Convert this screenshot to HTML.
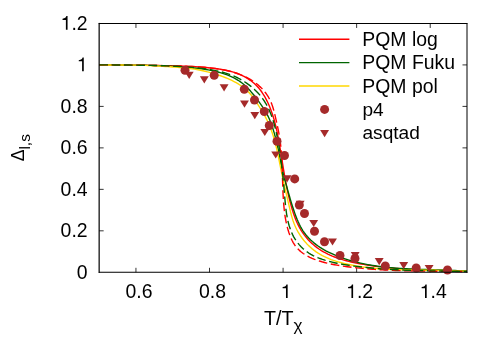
<!DOCTYPE html>
<html><head><meta charset="utf-8"><title>plot</title>
<style>
html,body{margin:0;padding:0;background:#fff;}
body{width:500px;height:350px;overflow:hidden;position:relative;font-family:"Liberation Sans",sans-serif;}
svg{position:absolute;left:0;top:0;will-change:transform;}
text{font-family:"Liberation Sans",sans-serif;font-size:19.1px;fill:#000;}
</style></head><body>
<svg width="500" height="350" viewBox="0 0 500 350">
<rect x="0" y="0" width="500" height="350" fill="#fff"/>

<g stroke="#000" stroke-width="0.8" fill="none">
<path d="M135.94,272.3 V267.80 M135.94,23.45 V27.95"/>
<path d="M209.51,272.3 V267.80 M209.51,23.45 V27.95"/>
<path d="M283.08,272.3 V267.80 M283.08,23.45 V27.95"/>
<path d="M356.64,272.3 V267.80 M356.64,23.45 V27.95"/>
<path d="M430.22,272.3 V267.80 M430.22,23.45 V27.95"/>
<path d="M99.15,230.82 H103.65 M467.0,230.82 H462.50"/>
<path d="M99.15,189.35 H103.65 M467.0,189.35 H462.50"/>
<path d="M99.15,147.88 H103.65 M467.0,147.88 H462.50"/>
<path d="M99.15,106.40 H103.65 M467.0,106.40 H462.50"/>
<path d="M99.15,64.92 H103.65 M467.0,64.92 H462.50"/>
</g>
<g fill="none" stroke-width="1.4" stroke-linejoin="round">
<path d="M99.30,64.90 L101.77,64.90 L104.24,64.90 L106.72,64.90 L109.19,64.91 L111.66,64.92 L114.13,64.93 L116.61,64.94 L119.08,64.96 L121.55,64.98 L124.03,65.00 L126.50,65.02 L128.97,65.05 L131.44,65.08 L133.92,65.11 L136.39,65.15 L138.86,65.18 L141.34,65.22 L143.81,65.26 L146.28,65.30 L148.75,65.34 L151.23,65.39 L153.70,65.43 L156.17,65.48 L158.64,65.53 L161.11,65.58 L163.58,65.64 L166.05,65.69 L168.52,65.75 L170.99,65.80 L173.46,65.86 L175.93,65.92 L178.40,65.99 L180.87,66.06 L183.34,66.14 L185.81,66.23 L188.28,66.33 L190.75,66.44 L193.22,66.56 L195.68,66.70 L198.15,66.86 L200.62,67.04 L203.09,67.23 L205.56,67.45 L208.03,67.69 L210.50,67.95 L212.97,68.24 L215.44,68.55 L217.91,68.90 L220.37,69.28 L222.83,69.70 L225.28,70.18 L227.71,70.70 L230.12,71.29 L232.50,71.95 L234.86,72.68 L237.19,73.49 L239.48,74.39 L241.73,75.38 L243.94,76.47 L246.10,77.65 L248.20,78.93 L250.23,80.30 L252.19,81.77 L254.07,83.33 L255.87,84.99 L257.57,86.74 L259.18,88.58 L260.70,90.51 L262.12,92.52 L263.47,94.59 L264.74,96.71 L265.93,98.88 L267.06,101.07 L268.12,103.30 L269.13,105.56 L270.08,107.83 L270.97,110.14 L271.81,112.46 L272.60,114.80 L273.35,117.17 L274.05,119.54 L274.72,121.94 L275.34,124.35 L275.93,126.76 L276.49,129.19 L277.02,131.63 L277.53,134.08 L278.01,136.53 L278.47,138.98 L278.92,141.44 L279.35,143.89 L279.77,146.35 L280.18,148.80 L280.58,151.25 L280.98,153.69 L281.37,156.13 L281.76,158.57 L282.15,161.01 L282.54,163.44 L282.94,165.87 L283.34,168.30 L283.74,170.72 L284.15,173.15 L284.57,175.57 L285.00,177.98 L285.43,180.40 L285.89,182.81 L286.35,185.22 L286.84,187.63 L287.34,190.03 L287.86,192.44 L288.40,194.84 L288.96,197.24 L289.54,199.64 L290.15,202.04 L290.79,204.43 L291.45,206.83 L292.15,209.21 L292.89,211.59 L293.67,213.96 L294.50,216.30 L295.38,218.63 L296.32,220.93 L297.33,223.19 L298.40,225.42 L299.56,227.61 L300.79,229.76 L302.11,231.86 L303.51,233.90 L305.00,235.89 L306.56,237.81 L308.19,239.67 L309.90,241.46 L311.67,243.18 L313.50,244.82 L315.39,246.38 L317.34,247.85 L319.34,249.25 L321.39,250.56 L323.49,251.80 L325.63,252.97 L327.82,254.07 L330.04,255.10 L332.29,256.07 L334.58,256.98 L336.90,257.83 L339.25,258.64 L341.62,259.39 L344.01,260.09 L346.42,260.75 L348.84,261.37 L351.28,261.95 L353.72,262.50 L356.17,263.02 L358.63,263.50 L361.09,263.97 L363.54,264.41 L366.00,264.83 L368.45,265.22 L370.91,265.60 L373.36,265.95 L375.81,266.29 L378.26,266.61 L380.72,266.91 L383.17,267.19 L385.62,267.45 L388.07,267.70 L390.52,267.93 L392.97,268.15 L395.43,268.36 L397.88,268.55 L400.33,268.73 L402.78,268.90 L405.24,269.05 L407.69,269.20 L410.15,269.33 L412.60,269.46 L415.06,269.58 L417.52,269.69 L419.98,269.79 L422.43,269.88 L424.90,269.98 L427.36,270.06 L429.82,270.14 L432.29,270.22 L434.75,270.29 L437.22,270.37 L439.69,270.44 L442.16,270.51 L444.64,270.58 L447.11,270.64 L449.59,270.72 L452.07,270.79 L454.55,270.86 L457.04,270.94 L459.52,271.02 L462.01,271.11 L464.51,271.20 L467.00,271.30" stroke="#ff0000"/>
<path d="M99.30,64.90 L101.73,64.90 L104.16,64.91 L106.58,64.91 L109.01,64.92 L111.44,64.92 L113.87,64.93 L116.29,64.94 L118.72,64.96 L121.15,64.97 L123.58,64.99 L126.00,65.01 L128.43,65.04 L130.86,65.07 L133.29,65.10 L135.71,65.13 L138.14,65.17 L140.57,65.21 L143.00,65.25 L145.43,65.30 L147.85,65.36 L150.28,65.42 L152.71,65.48 L155.14,65.55 L157.57,65.63 L159.99,65.71 L162.42,65.81 L164.85,65.91 L167.27,66.02 L169.70,66.14 L172.12,66.26 L174.55,66.40 L176.97,66.56 L179.39,66.72 L181.81,66.89 L184.22,67.08 L186.64,67.28 L189.05,67.50 L191.47,67.73 L193.88,67.98 L196.29,68.24 L198.69,68.52 L201.10,68.82 L203.50,69.15 L205.90,69.51 L208.30,69.91 L210.69,70.35 L213.09,70.83 L215.48,71.37 L217.87,71.95 L220.24,72.60 L222.61,73.31 L224.94,74.08 L227.25,74.92 L229.53,75.83 L231.75,76.82 L233.93,77.89 L236.06,79.05 L238.12,80.29 L240.11,81.63 L242.02,83.06 L243.87,84.57 L245.66,86.16 L247.38,87.83 L249.06,89.56 L250.69,91.34 L252.27,93.18 L253.82,95.05 L255.34,96.96 L256.83,98.89 L258.29,100.85 L259.73,102.83 L261.14,104.82 L262.51,106.82 L263.85,108.85 L265.13,110.90 L266.35,112.98 L267.50,115.09 L268.56,117.25 L269.55,119.45 L270.47,121.68 L271.32,123.94 L272.12,126.22 L272.87,128.53 L273.59,130.84 L274.27,133.17 L274.92,135.51 L275.54,137.86 L276.13,140.22 L276.71,142.59 L277.25,144.96 L277.78,147.34 L278.30,149.72 L278.79,152.10 L279.28,154.48 L279.75,156.87 L280.21,159.26 L280.67,161.64 L281.12,164.02 L281.59,166.40 L282.07,168.77 L282.58,171.14 L283.12,173.50 L283.70,175.85 L284.32,178.20 L284.97,180.54 L285.64,182.87 L286.31,185.20 L286.98,187.52 L287.63,189.85 L288.29,192.17 L288.95,194.49 L289.61,196.80 L290.28,199.11 L290.96,201.41 L291.65,203.71 L292.37,206.00 L293.11,208.28 L293.87,210.57 L294.67,212.86 L295.50,215.16 L296.38,217.47 L297.30,219.78 L298.29,222.07 L299.34,224.33 L300.46,226.54 L301.65,228.70 L302.94,230.78 L304.31,232.77 L305.78,234.69 L307.32,236.53 L308.94,238.29 L310.64,239.97 L312.40,241.58 L314.23,243.12 L316.12,244.60 L318.07,246.01 L320.07,247.35 L322.11,248.63 L324.21,249.86 L326.34,251.03 L328.50,252.14 L330.70,253.20 L332.92,254.21 L335.17,255.18 L337.44,256.09 L339.72,256.97 L342.01,257.80 L344.31,258.60 L346.62,259.36 L348.93,260.07 L351.26,260.76 L353.59,261.40 L355.93,262.02 L358.28,262.60 L360.63,263.14 L362.99,263.66 L365.36,264.15 L367.73,264.60 L370.11,265.03 L372.50,265.43 L374.89,265.81 L377.28,266.16 L379.68,266.49 L382.09,266.79 L384.50,267.08 L386.91,267.34 L389.33,267.58 L391.75,267.80 L394.17,268.01 L396.60,268.20 L399.03,268.37 L401.46,268.53 L403.89,268.68 L406.33,268.81 L408.77,268.94 L411.21,269.05 L413.64,269.15 L416.08,269.25 L418.52,269.33 L420.97,269.41 L423.41,269.49 L425.85,269.56 L428.29,269.63 L430.72,269.70 L433.16,269.77 L435.60,269.83 L438.03,269.90 L440.46,269.97 L442.89,270.05 L445.32,270.13 L447.74,270.21 L450.16,270.30 L452.58,270.40 L455.00,270.50 L457.41,270.62 L459.81,270.75 L462.21,270.88 L464.61,271.04 L467.00,271.20" stroke="#006400"/>
<path d="M99.30,64.89 L101.74,64.91 L104.18,64.92 L106.63,64.93 L109.07,64.94 L111.51,64.94 L113.95,64.95 L116.40,64.95 L118.84,64.96 L121.28,64.97 L123.73,64.98 L126.17,65.00 L128.61,65.02 L131.05,65.05 L133.49,65.08 L135.94,65.12 L138.38,65.18 L140.82,65.24 L143.26,65.31 L145.70,65.39 L148.14,65.49 L150.58,65.59 L153.02,65.71 L155.46,65.83 L157.90,65.97 L160.33,66.12 L162.77,66.27 L165.21,66.43 L167.65,66.61 L170.08,66.78 L172.52,66.97 L174.96,67.16 L177.39,67.36 L179.83,67.56 L182.27,67.77 L184.70,67.98 L187.13,68.22 L189.56,68.49 L191.98,68.79 L194.40,69.13 L196.80,69.52 L199.20,69.96 L201.59,70.45 L203.97,70.98 L206.34,71.56 L208.71,72.17 L211.07,72.82 L213.43,73.51 L215.78,74.23 L218.13,74.99 L220.47,75.78 L222.79,76.61 L225.10,77.49 L227.37,78.41 L229.62,79.39 L231.84,80.43 L234.01,81.53 L236.14,82.69 L238.22,83.92 L240.25,85.22 L242.22,86.60 L244.12,88.07 L245.96,89.61 L247.72,91.25 L249.41,92.98 L251.01,94.81 L252.53,96.72 L253.99,98.70 L255.40,100.74 L256.77,102.81 L258.12,104.90 L259.45,107.00 L260.77,109.09 L262.06,111.19 L263.32,113.30 L264.55,115.43 L265.72,117.57 L266.84,119.74 L267.90,121.92 L268.90,124.14 L269.84,126.37 L270.73,128.63 L271.57,130.90 L272.37,133.19 L273.12,135.51 L273.82,137.83 L274.50,140.17 L275.13,142.52 L275.74,144.89 L276.32,147.26 L276.87,149.65 L277.41,152.04 L277.92,154.43 L278.42,156.83 L278.91,159.24 L279.39,161.64 L279.87,164.05 L280.34,166.45 L280.81,168.85 L281.29,171.25 L281.78,173.64 L282.27,176.03 L282.78,178.40 L283.30,180.78 L283.83,183.14 L284.36,185.51 L284.91,187.87 L285.46,190.23 L286.01,192.59 L286.56,194.95 L287.12,197.32 L287.68,199.68 L288.23,202.05 L288.79,204.43 L289.34,206.81 L289.89,209.20 L290.46,211.58 L291.07,213.96 L291.71,216.32 L292.40,218.67 L293.15,221.00 L293.97,223.29 L294.89,225.56 L295.89,227.79 L296.98,229.98 L298.16,232.13 L299.43,234.23 L300.78,236.28 L302.20,238.27 L303.71,240.21 L305.28,242.08 L306.93,243.89 L308.65,245.63 L310.43,247.30 L312.27,248.89 L314.18,250.40 L316.14,251.83 L318.15,253.17 L320.22,254.43 L322.33,255.60 L324.48,256.70 L326.68,257.72 L328.91,258.67 L331.18,259.56 L333.47,260.39 L335.80,261.16 L338.14,261.87 L340.51,262.54 L342.89,263.16 L345.28,263.73 L347.68,264.27 L350.09,264.77 L352.50,265.25 L354.92,265.69 L357.33,266.11 L359.75,266.49 L362.17,266.86 L364.59,267.19 L367.01,267.50 L369.43,267.79 L371.86,268.06 L374.28,268.30 L376.71,268.53 L379.14,268.73 L381.57,268.92 L384.00,269.09 L386.43,269.24 L388.87,269.38 L391.30,269.50 L393.74,269.61 L396.18,269.70 L398.62,269.78 L401.06,269.86 L403.50,269.92 L405.94,269.98 L408.38,270.02 L410.82,270.06 L413.26,270.10 L415.70,270.13 L418.15,270.15 L420.59,270.18 L423.03,270.20 L425.48,270.22 L427.92,270.24 L430.37,270.26 L432.81,270.29 L435.26,270.31 L437.70,270.35 L440.14,270.38 L442.59,270.42 L445.03,270.47 L447.47,270.53 L449.92,270.60 L452.36,270.68 L454.80,270.76 L457.24,270.86 L459.68,270.97 L462.12,271.10 L464.56,271.24 L467.00,271.40" stroke="#ffd700"/>
<path d="M99.30,64.91 L101.86,64.90 L104.41,64.90 L106.97,64.90 L109.52,64.91 L112.08,64.92 L114.63,64.93 L117.19,64.95 L119.74,64.96 L122.30,64.98 L124.86,65.01 L127.41,65.03 L129.97,65.06 L132.52,65.09 L135.08,65.13 L137.63,65.16 L140.19,65.20 L142.74,65.24 L145.30,65.28 L147.85,65.33 L150.41,65.37 L152.97,65.42 L155.52,65.47 L158.08,65.52 L160.63,65.57 L163.19,65.63 L165.74,65.68 L168.30,65.74 L170.85,65.80 L173.41,65.85 L175.96,65.92 L178.51,65.98 L181.07,66.06 L183.62,66.14 L186.17,66.23 L188.73,66.34 L191.28,66.46 L193.83,66.59 L196.38,66.74 L198.93,66.91 L201.48,67.10 L204.03,67.31 L206.57,67.54 L209.12,67.80 L211.66,68.09 L214.20,68.41 L216.74,68.75 L219.28,69.14 L221.81,69.56 L224.33,70.03 L226.84,70.55 L229.34,71.12 L231.82,71.76 L234.28,72.47 L236.72,73.25 L239.13,74.10 L241.52,75.04 L243.87,76.07 L246.19,77.18 L248.45,78.38 L250.67,79.67 L252.83,81.04 L254.92,82.49 L256.94,84.03 L258.88,85.66 L260.74,87.37 L262.50,89.17 L264.17,91.05 L265.73,93.02 L267.18,95.07 L268.51,97.21 L269.72,99.43 L270.80,101.73 L271.76,104.11 L272.61,106.55 L273.38,109.03 L274.08,111.55 L274.72,114.09 L275.33,116.64 L275.90,119.19 L276.47,121.72 L277.03,124.23 L277.57,126.72 L278.09,129.21 L278.59,131.70 L279.05,134.18 L279.48,136.67 L279.87,139.17 L280.21,141.68 L280.53,144.20 L280.81,146.72 L281.05,149.25 L281.27,151.78 L281.47,154.32 L281.64,156.87" stroke="#ff0000" stroke-dasharray="8.7,3.6"/>
<path d="M281.64,156.87 L281.79,159.41 L281.92,161.97 L282.04,164.52 L282.14,167.08 L282.23,169.64 L282.32,172.21 L282.40,174.77 L282.47,177.34 L282.55,179.90 L282.63,182.46 L282.71,185.03 L282.80,187.59 L282.90,190.15 L283.01,192.71 L283.13,195.26 L283.27,197.81 L283.44,200.36 L283.62,202.90 L283.83,205.44 L284.07,207.97 L284.33,210.50 L284.64,213.02 L284.99,215.54 L285.39,218.05 L285.84,220.56 L286.34,223.07 L286.91,225.57 L287.55,228.07 L288.25,230.57 L289.04,233.06 L289.92,235.52 L290.89,237.94 L291.98,240.29 L293.18,242.55 L294.51,244.71 L295.98,246.74 L297.60,248.63 L299.35,250.37 L301.24,251.99 L303.23,253.48 L305.33,254.86 L307.53,256.12 L309.80,257.28 L312.14,258.34 L314.54,259.32 L316.99,260.21 L319.47,261.02 L321.97,261.77 L324.49,262.46 L327.00,263.09 L329.52,263.68 L332.03,264.22 L334.54,264.71 L337.06,265.17 L339.57,265.59 L342.08,265.99 L344.60,266.35 L347.12,266.69 L349.64,267.01 L352.16,267.31 L354.69,267.60 L357.21,267.87 L359.75,268.13 L362.28,268.38 L364.82,268.61 L367.36,268.82 L369.90,269.02 L372.45,269.22 L375.00,269.39 L377.55,269.56 L380.10,269.72 L382.65,269.86 L385.21,270.00 L387.76,270.12 L390.32,270.24 L392.88,270.35 L395.44,270.45 L398.00,270.54 L400.56,270.62 L403.12,270.70 L405.68,270.76 L408.25,270.83 L410.81,270.89 L413.37,270.94 L415.94,270.98 L418.50,271.03 L421.06,271.07 L423.63,271.10 L426.19,271.13 L428.75,271.16 L431.31,271.19 L433.87,271.22 L436.43,271.24 L438.99,271.27 L441.54,271.29 L444.10,271.31 L446.65,271.34 L449.20,271.36 L451.75,271.39 L454.30,271.42 L456.84,271.45 L459.39,271.48 L461.93,271.52 L464.46,271.56 L467.00,271.60" stroke="#ff0000" stroke-dasharray="8.7,3.6" stroke-dashoffset="3.51"/>
<path d="M99.30,64.90 L101.81,64.90 L104.31,64.90 L106.82,64.91 L109.33,64.91 L111.83,64.92 L114.34,64.93 L116.85,64.95 L119.35,64.96 L121.86,64.98 L124.37,65.00 L126.87,65.03 L129.38,65.05 L131.89,65.08 L134.39,65.11 L136.90,65.15 L139.41,65.19 L141.91,65.23 L144.42,65.27 L146.92,65.31 L149.43,65.36 L151.93,65.41 L154.44,65.47 L156.94,65.54 L159.45,65.60 L161.95,65.68 L164.46,65.76 L166.96,65.85 L169.46,65.96 L171.97,66.07 L174.47,66.19 L176.97,66.32 L179.48,66.46 L181.98,66.62 L184.48,66.79 L186.98,66.97 L189.49,67.17 L191.99,67.38 L194.49,67.61 L197.00,67.85 L199.50,68.12 L202.00,68.41 L204.49,68.73 L206.98,69.07 L209.45,69.45 L211.92,69.87 L214.38,70.33 L216.82,70.84 L219.25,71.39 L221.66,72.00 L224.06,72.66 L226.43,73.38 L228.78,74.16 L231.11,75.02 L233.41,75.94 L235.68,76.93 L237.93,78.00 L240.15,79.16 L242.33,80.39 L244.47,81.71 L246.57,83.11 L248.63,84.58 L250.63,86.13 L252.57,87.75 L254.46,89.43 L256.27,91.19 L258.02,93.01 L259.69,94.90 L261.28,96.84 L262.78,98.84 L264.19,100.90 L265.52,103.02 L266.76,105.18 L267.91,107.38 L268.99,109.63 L270.00,111.92 L270.94,114.24 L271.81,116.60 L272.63,118.97 L273.39,121.38 L274.10,123.80 L274.77,126.24 L275.39,128.68 L275.97,131.14 L276.52,133.60 L277.05,136.06 L277.55,138.52 L278.02,140.98 L278.47,143.43 L278.91,145.88 L279.32,148.33 L279.71,150.78 L280.08,153.23 L280.44,155.68" stroke="#006400" stroke-dasharray="8.7,3.6"/>
<path d="M280.44,155.68 L280.78,158.13 L281.11,160.59 L281.42,163.04 L281.71,165.50 L282.00,167.96 L282.27,170.43 L282.54,172.90 L282.79,175.37 L283.04,177.85 L283.27,180.34 L283.51,182.83 L283.73,185.34 L283.95,187.85 L284.17,190.36 L284.39,192.89 L284.60,195.43 L284.82,197.97 L285.04,200.53 L285.28,203.08 L285.53,205.63 L285.82,208.18 L286.13,210.71 L286.49,213.23 L286.89,215.74 L287.35,218.22 L287.87,220.67 L288.45,223.10 L289.11,225.49 L289.85,227.85 L290.67,230.16 L291.58,232.43 L292.60,234.65 L293.72,236.82 L294.96,238.93 L296.31,240.98 L297.78,242.96 L299.36,244.87 L301.05,246.70 L302.84,248.44 L304.73,250.08 L306.71,251.62 L308.77,253.04 L310.91,254.35 L313.13,255.54 L315.40,256.63 L317.72,257.62 L320.08,258.53 L322.46,259.37 L324.86,260.15 L327.28,260.86 L329.70,261.53 L332.14,262.14 L334.59,262.71 L337.05,263.24 L339.52,263.73 L342.00,264.19 L344.48,264.61 L346.96,265.01 L349.45,265.39 L351.93,265.75 L354.42,266.09 L356.91,266.42 L359.40,266.73 L361.89,267.02 L364.38,267.30 L366.87,267.57 L369.37,267.82 L371.86,268.06 L374.36,268.28 L376.85,268.49 L379.35,268.69 L381.84,268.88 L384.34,269.05 L386.84,269.22 L389.33,269.37 L391.83,269.52 L394.33,269.65 L396.83,269.78 L399.33,269.90 L401.83,270.01 L404.33,270.11 L406.84,270.20 L409.34,270.29 L411.84,270.37 L414.34,270.45 L416.85,270.52 L419.35,270.58 L421.86,270.64 L424.36,270.70 L426.87,270.75 L429.37,270.80 L431.88,270.85 L434.39,270.90 L436.89,270.94 L439.40,270.98 L441.91,271.02 L444.42,271.06 L446.92,271.11 L449.43,271.15 L451.94,271.19 L454.45,271.24 L456.96,271.28 L459.47,271.33 L461.98,271.38 L464.49,271.44 L467.00,271.50" stroke="#006400" stroke-dasharray="8.7,3.6" stroke-dashoffset="8.18"/>
</g>
<text transform="translate(76.79,278.60) scale(1,1.035)" style="font-size:19.44px">0</text>
<text transform="translate(60.58,237.12) scale(1,1.035)" style="font-size:19.44px">0</text><text transform="translate(71.39,237.12) scale(1,1.035)" style="font-size:19.44px">.</text><text transform="translate(76.79,237.12) scale(1,1.035)" style="font-size:19.44px">2</text>
<text transform="translate(60.58,195.65) scale(1,1.035)" style="font-size:19.44px">0</text><text transform="translate(71.39,195.65) scale(1,1.035)" style="font-size:19.44px">.</text><text transform="translate(76.79,195.65) scale(1,1.035)" style="font-size:19.44px">4</text>
<text transform="translate(60.58,154.18) scale(1,1.035)" style="font-size:19.44px">0</text><text transform="translate(71.39,154.18) scale(1,1.035)" style="font-size:19.44px">.</text><text transform="translate(76.79,154.18) scale(1,1.035)" style="font-size:19.44px">6</text>
<text transform="translate(60.58,112.70) scale(1,1.035)" style="font-size:19.44px">0</text><text transform="translate(71.39,112.70) scale(1,1.035)" style="font-size:19.44px">.</text><text transform="translate(76.79,112.70) scale(1,1.035)" style="font-size:19.44px">8</text>
<path d="M83.77,71.22 L83.77,57.56 L82.57,57.56 C82.29,58.94 81.17,59.99 78.75,60.14 L78.75,61.37 L82.10,61.37 L82.10,71.22 Z" fill="#000"/>
<path d="M67.56,29.75 L67.56,16.08 L66.35,16.08 C66.08,17.46 64.95,18.51 62.54,18.67 L62.54,19.89 L65.89,19.89 L65.89,29.75 Z" fill="#000"/><text transform="translate(71.39,29.75) scale(1,1.035)" style="font-size:19.44px">.</text><text transform="translate(76.79,29.75) scale(1,1.035)" style="font-size:19.44px">2</text>
<text transform="translate(125.42,298.10) scale(1,1.035)" style="font-size:19.44px">0</text><text transform="translate(136.23,298.10) scale(1,1.035)" style="font-size:19.44px">.</text><text transform="translate(141.64,298.10) scale(1,1.035)" style="font-size:19.44px">6</text>
<text transform="translate(198.99,298.10) scale(1,1.035)" style="font-size:19.44px">0</text><text transform="translate(209.80,298.10) scale(1,1.035)" style="font-size:19.44px">.</text><text transform="translate(215.21,298.10) scale(1,1.035)" style="font-size:19.44px">8</text>
<path d="M287.65,298.10 L287.65,284.43 L286.44,284.43 C286.17,285.81 285.04,286.86 282.63,287.02 L282.63,288.24 L285.98,288.24 L285.98,298.10 Z" fill="#000"/>
<path d="M353.11,298.10 L353.11,284.43 L351.91,284.43 C351.64,285.81 350.51,286.86 348.10,287.02 L348.10,288.24 L351.44,288.24 L351.44,298.10 Z" fill="#000"/><text transform="translate(356.94,298.10) scale(1,1.035)" style="font-size:19.44px">.</text><text transform="translate(362.35,298.10) scale(1,1.035)" style="font-size:19.44px">2</text>
<path d="M426.68,298.10 L426.68,284.43 L425.48,284.43 C425.21,285.81 424.08,286.86 421.67,287.02 L421.67,288.24 L425.01,288.24 L425.01,298.10 Z" fill="#000"/><text transform="translate(430.51,298.10) scale(1,1.035)" style="font-size:19.44px">.</text><text transform="translate(435.92,298.10) scale(1,1.035)" style="font-size:19.44px">4</text>
<text transform="translate(264.0,325.3) scale(1.03,1.06)" style="font-size:19.1px">T/T</text>
<text transform="translate(293.5,331.0) scale(0.9,0.82)" style="font-size:19.1px">χ</text>
<text transform="translate(24,161.3) rotate(-90) scale(0.93,1)">Δ</text>
<text transform="translate(30,149.6) rotate(-90)" style="font-size:15.5px">l,s</text>
<path d="M299,39.25 H349.4" stroke="#ff0000" stroke-width="1.4"/>
<text transform="translate(362.3,45.85) scale(1,1.06)" style="font-size:19.4px">PQM</text>
<text x="411.89" y="45.85" style="font-size:19.4px">log</text>
<path d="M299,62.65 H349.4" stroke="#006400" stroke-width="1.4"/>
<text transform="translate(362.3,69.25) scale(1,1.06)" style="font-size:19.4px">PQM</text>
<text transform="translate(411.89,69.25) scale(1,1.06)" style="font-size:19.4px">F</text>
<text x="423.74" y="69.25" style="font-size:19.4px">uku</text>
<path d="M299,86.05 H349.4" stroke="#ffd700" stroke-width="1.4"/>
<text transform="translate(362.3,92.65) scale(1,1.06)" style="font-size:19.4px">PQM</text>
<text x="411.89" y="92.65" style="font-size:19.4px">pol</text>
<text x="362.5" y="116.05">p4</text>
<text x="362.5" y="139.45">asqtad</text>
<circle cx="324.60" cy="109.40" r="4.5" fill="#a52a2a"/>
<path d="M320.15,130.00 L329.05,130.00 L324.60,137.20 Z" fill="#a52a2a"/>
<circle cx="185.00" cy="70.20" r="4.5" fill="#a52a2a"/>
<circle cx="214.20" cy="75.20" r="4.5" fill="#a52a2a"/>
<circle cx="244.30" cy="89.30" r="4.5" fill="#a52a2a"/>
<circle cx="254.50" cy="100.00" r="4.5" fill="#a52a2a"/>
<circle cx="264.30" cy="111.50" r="4.5" fill="#a52a2a"/>
<circle cx="269.30" cy="125.50" r="4.5" fill="#a52a2a"/>
<circle cx="277.00" cy="141.20" r="4.5" fill="#a52a2a"/>
<circle cx="284.50" cy="155.50" r="4.5" fill="#a52a2a"/>
<circle cx="294.70" cy="178.90" r="4.5" fill="#a52a2a"/>
<circle cx="299.30" cy="205.00" r="4.5" fill="#a52a2a"/>
<circle cx="304.50" cy="213.50" r="4.5" fill="#a52a2a"/>
<circle cx="314.50" cy="231.30" r="4.5" fill="#a52a2a"/>
<circle cx="324.50" cy="241.80" r="4.5" fill="#a52a2a"/>
<circle cx="340.00" cy="255.50" r="4.5" fill="#a52a2a"/>
<circle cx="355.00" cy="258.50" r="4.5" fill="#a52a2a"/>
<circle cx="385.30" cy="266.00" r="4.5" fill="#a52a2a"/>
<circle cx="416.20" cy="268.00" r="4.5" fill="#a52a2a"/>
<circle cx="447.50" cy="270.00" r="4.5" fill="#a52a2a"/>
<path d="M184.75,71.75 L193.65,71.75 L189.20,78.95 Z" fill="#a52a2a"/>
<path d="M199.85,76.20 L208.75,76.20 L204.30,83.40 Z" fill="#a52a2a"/>
<path d="M219.65,84.20 L228.55,84.20 L224.10,91.40 Z" fill="#a52a2a"/>
<path d="M240.05,100.50 L248.95,100.50 L244.50,107.70 Z" fill="#a52a2a"/>
<path d="M250.35,112.10 L259.25,112.10 L254.80,119.30 Z" fill="#a52a2a"/>
<path d="M260.35,128.90 L269.25,128.90 L264.80,136.10 Z" fill="#a52a2a"/>
<path d="M271.25,151.40 L280.15,151.40 L275.70,158.60 Z" fill="#a52a2a"/>
<path d="M282.65,175.20 L291.55,175.20 L287.10,182.40 Z" fill="#a52a2a"/>
<path d="M295.70,200.80 L304.60,200.80 L300.15,208.00 Z" fill="#a52a2a"/>
<path d="M309.25,219.90 L318.15,219.90 L313.70,227.10 Z" fill="#a52a2a"/>
<path d="M328.05,238.40 L336.95,238.40 L332.50,245.60 Z" fill="#a52a2a"/>
<path d="M350.75,251.90 L359.65,251.90 L355.20,259.10 Z" fill="#a52a2a"/>
<path d="M374.75,258.10 L383.65,258.10 L379.20,265.30 Z" fill="#a52a2a"/>
<path d="M399.25,262.10 L408.15,262.10 L403.70,269.30 Z" fill="#a52a2a"/>
<path d="M424.65,264.90 L433.55,264.90 L429.10,272.10 Z" fill="#a52a2a"/>
<g stroke="#000" fill="none" stroke-linecap="round"><path d="M99.15,23.45 V272.3" stroke-width="1.2"/><path d="M99.15,272.3 H467.0" stroke-width="1.1"/><path d="M99.15,23.45 H467.0" stroke-width="1.05"/><path d="M467.0,23.45 V272.3" stroke-width="1.0"/></g>
</svg></body></html>
